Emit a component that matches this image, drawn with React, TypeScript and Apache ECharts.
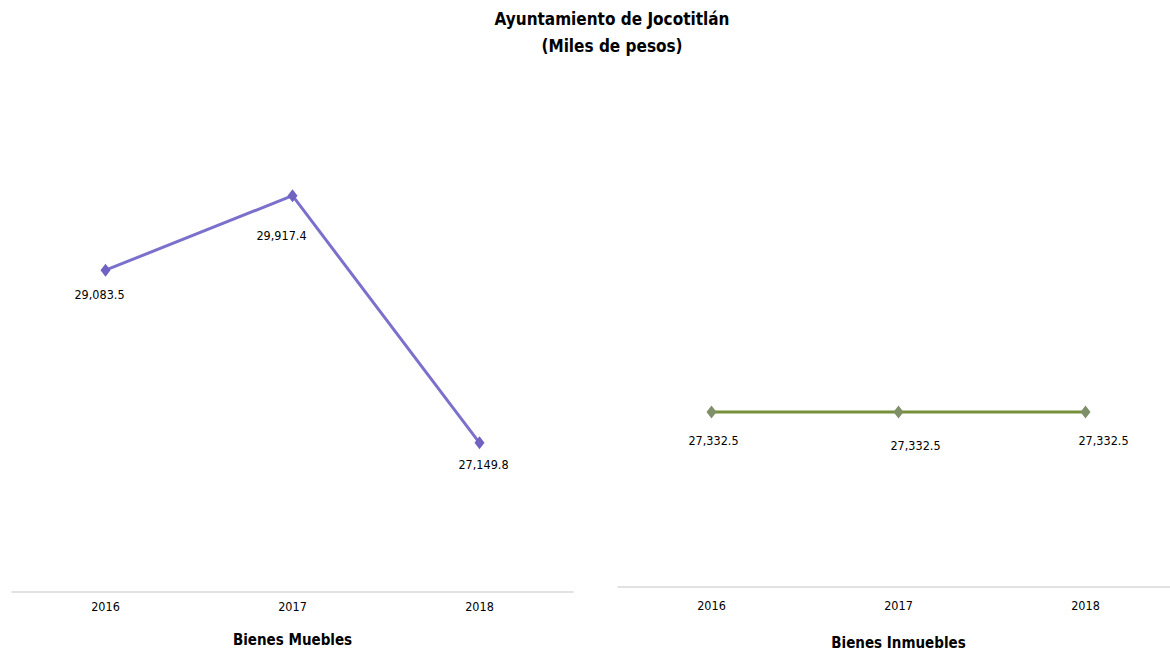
import React, { useEffect, useRef } from "react";
import * as echarts from "echarts";

const years = ["2016", "2017", "2018"];
const muebles = [29083.5, 29917.4, 27149.8];
const inmuebles = [27332.5, 27332.5, 27332.5];
const titleLines = ["Ayuntamiento de Jocotitlán", "(Miles de pesos)"];
const axisNames = ["Bienes Muebles", "Bienes Inmuebles"];

const NARROW = '"Liberation Sans Narrow", "DejaVu Sans Condensed", "Liberation Sans", sans-serif';

const fmt = (v: number) =>
  v.toLocaleString("en-US", { minimumFractionDigits: 1, maximumFractionDigits: 1 });

export default function App() {
  const ref = useRef<HTMLDivElement>(null);
  useEffect(() => {
    document.body.style.margin = "0";
    const chart = echarts.init(ref.current!, undefined, { renderer: "svg" });
    const labelStyle = { fontFamily: NARROW, fontSize: 12.5, color: "#000" };
    const leftDist = [11, 27, 9];
    const leftDx = [-6, -11, 4];
    const rightDist = [16, 21, 16];
    const rightDx = [2, 17, 18];
    chart.setOption({
      animation: false,
      backgroundColor: "#fff",
      title: {
        text: titleLines.join("\n"),
        left: 612,
        textAlign: "center",
        top: 5,
        padding: 0,
        textStyle: { fontFamily: NARROW, fontWeight: "bold", fontSize: 17, lineHeight: 27, color: "#000" },
      },
      grid: [
        { left: 12, width: 561, top: 99, height: 493, outerBoundsMode: "none", containLabel: false },
        { left: 618, width: 561, top: 99, height: 488, outerBoundsMode: "none", containLabel: false },
      ],
      xAxis: [0, 1].map((i) => ({
        type: "category",
        gridIndex: i,
        data: years,
        boundaryGap: true,
        name: axisNames[i],
        nameLocation: "middle",
        nameGap: i === 0 ? 40 : 48,
        nameTextStyle: { fontFamily: NARROW, fontWeight: "bold", fontSize: 15, color: "#000" },
        axisLine: { lineStyle: { color: "#d9d9d9", width: 1.5 } },
        axisTick: { show: false },
        axisLabel: { fontFamily: NARROW, fontSize: 12.5, color: "#000", margin: i === 0 ? 8 : 12 },
      })),
      yAxis: [
        { type: "value", gridIndex: 0, min: 25480, max: 31000, show: false },
        { type: "value", gridIndex: 1, min: 0, max: 76200, show: false },
      ],
      series: [
        {
          type: "line",
          xAxisIndex: 0,
          yAxisIndex: 0,
          data: muebles.map((v, i) => ({
            value: v,
            label: { distance: leftDist[i], offset: [leftDx[i], 0] },
          })),
          lineStyle: { color: "#7b70cc", width: 3 },
          itemStyle: { color: "#6f62c0" },
          symbol: "diamond",
          symbolSize: [10, 13],
          label: { show: true, position: "bottom", formatter: (p: any) => fmt(p.value), ...labelStyle },
        },
        {
          type: "line",
          xAxisIndex: 1,
          yAxisIndex: 1,
          data: inmuebles.map((v, i) => ({
            value: v,
            label: { distance: rightDist[i], offset: [rightDx[i], 0] },
          })),
          lineStyle: { color: "#76903a", width: 3 },
          itemStyle: { color: "#7f8f68" },
          symbol: "diamond",
          symbolSize: [10, 13],
          label: { show: true, position: "bottom", formatter: (p: any) => fmt(p.value), ...labelStyle },
        },
      ],
    });
    return () => chart.dispose();
  }, []);
  return <div ref={ref} style={{ width: 1170, height: 651 }} />;
}
